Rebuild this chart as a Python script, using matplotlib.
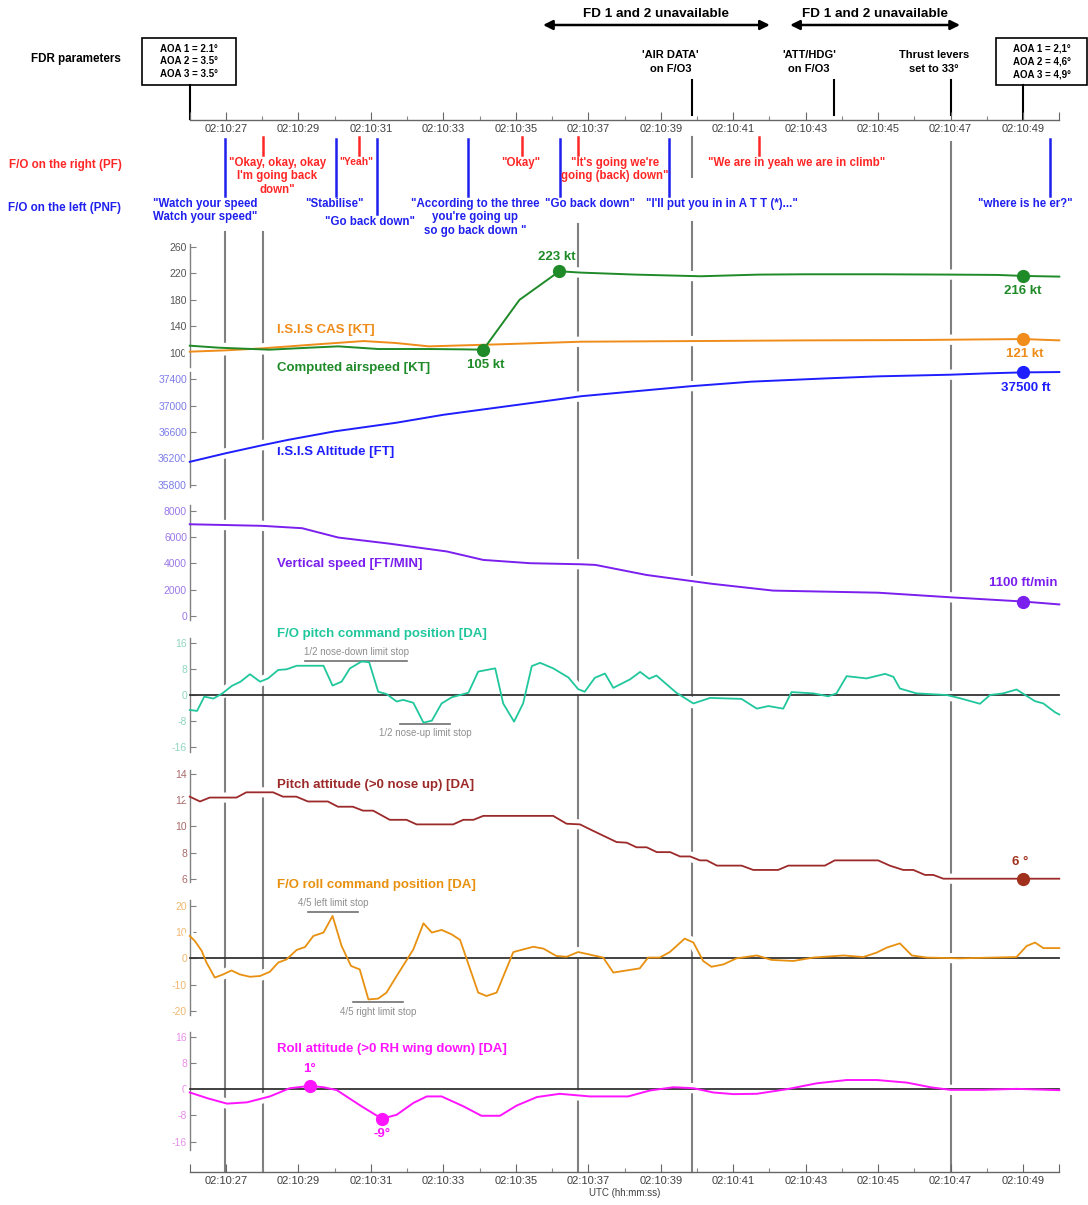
import matplotlib
matplotlib.use("Agg")
import matplotlib.pyplot as plt
from matplotlib.ticker import FixedLocator, FuncFormatter
from matplotlib.patches import Rectangle

plt.rcParams['font.family'] = ['Liberation Sans', 'DejaVu Sans']
plt.rcParams['axes.unicode_minus'] = False

# ---------------- time axis (seconds after 02:10:00 UTC) ----------------
T0, T1 = 26.0, 50.0

# ---------------- FDR series ----------------
cas_t = [26.0, 26.8, 28.2, 29.3, 30.1, 31.2, 32.6, 33.5, 34.1, 35.1, 36.2, 36.8,
         38.3, 40.1, 41.7, 43.0, 45.0, 47.0, 48.3, 49.0, 50.0]
cas_v = [111, 108, 105, 108, 110, 106, 106, 105.5, 105, 180, 223, 221,
         218, 215.5, 218, 218.5, 218.5, 218, 217.5, 216, 215]
cas_mark_t = [34.1, 36.2, 49.0]
cas_mark_v = [105, 223, 216]

isis_cas_t = [26.0, 27.0, 28.0, 29.5, 30.8, 31.7, 32.6, 34.5, 36.8, 40.0, 43.0, 46.0, 47.0, 49.0, 50.0]
isis_cas_v = [102, 104, 107, 113, 118, 115, 110, 113, 117, 118, 119, 119.5, 120, 121, 119]
isis_cas_mark = (49.0, 121)

alt_t = [26.0, 27.0, 28.0, 28.7, 30.0, 31.7, 33.0, 34.5, 36.0, 36.8, 38.0, 39.8,
         41.5, 43.6, 45.0, 47.0, 48.0, 49.0, 50.0]
alt_v = [36150, 36280, 36400, 36480, 36610, 36740, 36860, 36970, 37080, 37140, 37200, 37290,
         37360, 37410, 37440, 37465, 37485, 37500, 37505]
alt_mark = (49.0, 37500)

vs_t = [26.0, 28.0, 29.1, 30.1, 31.5, 33.1, 34.1, 35.4, 36.8, 37.2, 38.6, 40.4,
        42.1, 45.0, 47.0, 49.0, 50.0]
vs_v = [6970, 6850, 6670, 5960, 5500, 4900, 4260, 4010, 3930, 3880, 3120, 2450,
        1930, 1770, 1420, 1100, 880]
vs_mark = (49.0, 1100)

pcmd_t = [26.0, 26.2, 26.4, 26.65, 26.9, 27.16, 27.4, 27.66, 27.94, 28.16, 28.44, 28.67,
          28.95, 29.69, 29.94, 30.19, 30.42, 30.74, 30.95, 31.2, 31.43, 31.71, 31.89, 32.17,
          32.45, 32.68, 32.95, 33.23, 33.69, 33.96, 34.19, 34.43, 34.65, 34.95, 35.2, 35.44,
          35.67, 36.03, 36.45, 36.72, 36.9, 37.18, 37.46, 37.69, 38.15, 38.43, 38.68, 38.88,
          39.43, 39.9, 40.36, 41.23, 41.65, 41.97, 42.38, 42.61, 43.21, 43.62, 43.85, 44.13,
          44.68, 45.19, 45.42, 45.6, 46.06, 46.89, 47.26, 47.81, 48.09, 48.45, 48.82, 49.1,
          49.33, 49.56, 49.88, 50.0]
pcmd_v = [-4.6, -4.9, -0.5, -1.1, 0.5, 2.8, 4.1, 6.4, 4.1, 5.1, 7.7, 7.9,
          9.0, 9.0, 2.9, 4.1, 8.2, 10.3, 10.1, 1.0, 0.3, -2.0, -1.5, -2.4,
          -8.5, -7.9, -2.6, -0.7, 0.7, 7.2, 7.7, 8.2, -2.6, -8.2, -2.6, 8.9,
          9.9, 8.2, 5.4, 1.8, 1.0, 5.3, 6.6, 2.2, 4.8, 7.1, 5.0, 6.0,
          0.7, -2.6, -0.9, -1.2, -4.2, -3.4, -4.2, 0.9, 0.5, -0.4, 0.5, 5.8,
          5.1, 6.5, 5.6, 2.0, 0.5, 0.0, -1.0, -2.7, 0.0, 0.5, 1.7, -0.3,
          -1.9, -2.6, -5.3, -6.0]

patt_t = [26.0, 26.28, 26.55, 27.29, 27.56, 28.3, 28.57, 28.94, 29.26, 29.81, 30.09, 30.5,
          30.78, 31.06, 31.52, 31.98, 32.26, 33.27, 33.55, 33.83, 34.1, 36.03, 36.4, 36.77,
          37.1, 37.78, 38.06, 38.33, 38.61, 38.89, 39.26, 39.53, 39.81, 40.08, 40.27, 40.55,
          41.23, 41.55, 42.24, 42.52, 43.53, 43.8, 45.0, 45.32, 45.69, 45.97, 46.29, 46.52,
          46.8, 50.0]
patt_v = [12.27, 11.9, 12.2, 12.2, 12.6, 12.6, 12.27, 12.27, 11.9, 11.9, 11.5, 11.5,
          11.2, 11.2, 10.5, 10.5, 10.15, 10.15, 10.5, 10.5, 10.8, 10.8, 10.2, 10.15,
          9.7, 8.8, 8.75, 8.4, 8.4, 8.03, 8.03, 7.7, 7.7, 7.4, 7.4, 7.0,
          7.0, 6.67, 6.67, 7.0, 7.0, 7.4, 7.4, 7.0, 6.67, 6.67, 6.29, 6.29,
          6.0, 6.0]
patt_mark = (49.0, 6)

rcmd_t = [26.0, 26.14, 26.33, 26.46, 26.69, 26.92, 27.15, 27.38, 27.66, 27.94, 28.21, 28.44,
          28.67, 28.95, 29.18, 29.41, 29.69, 29.94, 30.19, 30.45, 30.69, 30.93, 31.2, 31.43,
          31.71, 32.17, 32.45, 32.68, 32.95, 33.23, 33.46, 33.96, 34.19, 34.47, 34.93, 35.48,
          35.76, 36.12, 36.4, 36.72, 37.41, 37.69, 38.42, 38.65, 38.97, 39.25, 39.66, 39.9,
          40.17, 40.4, 40.73, 41.09, 41.65, 42.06, 42.66, 43.21, 44.04, 44.59, 44.96, 45.24,
          45.6, 45.93, 46.34, 47.26, 48.82, 49.1, 49.33, 49.56, 50.0]
rcmd_v = [8.5, 6.6, 2.8, -1.6, -7.3, -6.1, -4.6, -6.1, -7.0, -6.7, -5.1, -1.6,
          -0.4, 3.2, 4.3, 8.5, 9.8, 16.1, 4.7, -2.9, -4.2, -15.6, -15.3, -13.0,
          -6.7, 3.4, 13.3, 9.8, 10.8, 9.1, 7.0, -13.0, -14.3, -13.0, 2.4, 4.4,
          3.7, 0.9, 0.6, 2.4, 0.3, -5.4, -3.8, 0.3, 0.3, 2.4, 7.5, 6.0,
          -1.0, -3.2, -2.3, 0.0, 1.1, -0.6, -1.0, 0.3, 1.1, 0.5, 2.2, 4.1,
          5.7, 1.1, 0.3, 0.0, 0.5, 4.7, 6.0, 3.9, 3.9]

ratt_t = [26.0, 26.5, 27.03, 27.58, 28.21, 28.76, 29.31, 29.69, 30.06, 30.71, 31.3, 31.71,
          32.17, 32.54, 32.95, 33.55, 34.05, 34.56, 35.02, 35.58, 36.21, 37.04, 37.5, 38.1,
          38.7, 39.35, 39.9, 40.45, 41.0, 41.65, 42.48, 43.31, 44.13, 44.96, 45.8, 46.44,
          46.99, 47.91, 48.83, 50.0]
ratt_v = [-1.0, -2.8, -4.4, -4.0, -2.2, 0.3, 1.0, 0.6, -0.3, -5.0, -9.0, -7.8,
          -4.2, -2.2, -2.2, -5.2, -8.1, -8.1, -5.0, -2.4, -1.4, -2.2, -2.2, -2.2,
          -0.4, 0.6, 0.3, -1.0, -1.5, -1.4, 0.0, 1.8, 2.8, 2.8, 2.0, 0.6,
          -0.2, -0.2, 0.1, -0.3]
ratt_marks = [(29.31, 1), (31.3, -9)]

# ---------------- cockpit events ----------------
pf_times = [28.02, 30.66, 35.16, 36.71, 41.72]
pf_text_t = [28.41, 30.59, 35.14, 37.74, 42.76]
pf_quotes = ['"Okay, okay, okay\nI\'m going back\ndown"', '"Yeah"', '"Okay"',
             '"It\'s going we\'re\ngoing (back) down"', '"We are in yeah we are in climb"']

pnf_times = [26.96, 30.04, 31.17, 33.68, 36.22, 39.22, 49.74]
pnf_text_t = [26.42, 30.0, 30.97, 33.87, 37.05, 40.69, 49.05]
pnf_quotes = ['"Watch your speed\nWatch your speed"', '"Stabilise"', '"Go back down"',
              '"According to the three\nyou\'re going up\nso go back down "', '"Go back down"',
              '"I\'ll put you in in A T T (*)..."', '"where is he er?"']

sys_times = [39.85, 43.78, 47.0]
sys_text_t = [39.27, 43.09, 46.54]
sys_labels = ["'AIR DATA'\non F/O3", "'ATT/HDG'\non F/O3", "Thrust levers\nset to 33°"]

fd_spans = [(35.75, 42.01), (42.57, 47.26)]
fd_label = "FD 1 and 2 unavailable"

aoa_times = [26.0, 49.0]
aoa_text = ["AOA 1 = 2.1°\nAOA 2 = 3.5°\nAOA 3 = 3.5°", "AOA 1 = 2,1°\nAOA 2 = 4,6°\nAOA 3 = 4,9°"]

# ---------------- colours ----------------
C_GREEN = '#1f8a28'
C_ORANGE = '#ef8c1a'
C_BLUE = '#1e1eff'
C_PURPLE = '#7a1fee'
C_TEAL = '#21c79c'
C_BROWN = '#9c2a2a'
C_ROLLC = '#e8900f'
C_MAGENTA = '#ff14ff'
C_RED = '#ff2626'
C_TXTBLUE = '#1f1fee'
C_GRAY = '#808080'

# ---------------- figure ----------------
W, H = 1088, 1205
X0, X1 = 189.8, 1059.3
fig = plt.figure(figsize=(W / 100, H / 100), dpi=100)
fig.patch.set_facecolor('white')


def px_axes(top, bottom, z):
    return fig.add_axes([X0 / W, 1 - bottom / H, (X1 - X0) / W, (bottom - top) / H], zorder=z)


# overlay in (time, pixel-row) coordinates for events and captions
ov = fig.add_axes([X0 / W, 0, (X1 - X0) / W, 1], zorder=0)
ov.set_xlim(T0, T1)
ov.set_ylim(H, 0)
ov.axis('off')

# grey event lines running through the data panels
gray_segments = [(pnf_times[0], [(232, 1172)]),
                 (pf_times[0], [(232, 1172)]),
                 (pf_times[3], [(224, 1172)]),
                 (sys_times[0], [(137, 177), (222, 1172)]),
                 (sys_times[2], [(142, 1172)])]
for t, segs in gray_segments:
    for y0, y1 in segs:
        ov.plot([t, t], [y0, y1], color=C_GRAY, lw=1.5, clip_on=False, zorder=1)


def panel(top, bottom, ticks, y_first, y_last, tick_color, spine_px):
    ax = px_axes(top, bottom, 2)
    scale = (ticks[-1] - ticks[0]) / (y_last - y_first)
    f = lambda y: ticks[0] + (y - y_first) * scale
    ax.set_xlim(T0, T1)
    ax.set_ylim(f(bottom), f(top))
    ax.patch.set_visible(False)
    for s in ('top', 'right', 'bottom'):
        ax.spines[s].set_visible(False)
    ax.spines['left'].set_color(C_GRAY)
    ax.spines['left'].set_linewidth(1.0)
    ax.spines['left'].set_bounds(f(spine_px[1]), f(spine_px[0]))
    ax.set_yticks(ticks)
    ax.set_xticks([])
    ax.tick_params(axis='y', direction='in', length=4, width=0.8, color=C_GRAY,
                   labelsize=7.5, labelcolor=tick_color, pad=2)
    return ax


def series(ax, t, v, color, lw=1.4):
    # white band underneath opens the grey event lines where the trace passes
    ax.plot(t, v, color='white', lw=lw + 6, solid_joinstyle='round', clip_on=False, zorder=2.2)
    ax.plot(t, v, color=color, lw=lw, solid_joinstyle='round', clip_on=False, zorder=3)


def mark(ax, t, v, color, label, dy, dx=0, size=8.5):
    ax.plot([t], [v], 'o', color=color, ms=size, zorder=4, clip_on=False)
    ax.annotate(label, (t, v), xytext=(dx, dy), textcoords='offset points',
                ha='center', va='center', color=color, fontsize=9.5, fontweight='bold')


def zero_line(ax):
    ax.plot([T0, T1], [0, 0], color='#333333', lw=1.3, clip_on=False, zorder=2.8)


def limit_stop(ax, t0, t1, v, text, dy):
    ax.plot([t0, t1], [v, v], color='#707070', lw=1.2, zorder=2.9)
    ax.annotate(text, ((t0 + t1) / 2, v), xytext=(0, dy), textcoords='offset points',
                ha='center', va='center', fontsize=7, color='#8f8f8f')


# speeds
ax_spd = panel(240, 372, [100, 140, 180, 220, 260], 353, 246.7, '#555555', (244, 367))
series(ax_spd, isis_cas_t, isis_cas_v, C_ORANGE)
series(ax_spd, cas_t, cas_v, C_GREEN)
mark(ax_spd, cas_mark_t[0], cas_mark_v[0], C_GREEN, '105 kt', -11, 2)
mark(ax_spd, cas_mark_t[1], cas_mark_v[1], C_GREEN, '223 kt', 10, -2)
mark(ax_spd, cas_mark_t[2], cas_mark_v[2], C_GREEN, '216 kt', -11, 0)
mark(ax_spd, isis_cas_mark[0], isis_cas_mark[1], C_ORANGE, '121 kt', -11, 1)

# altitude
ax_alt = panel(372, 492, [35800, 36200, 36600, 37000, 37400], 485, 379, '#7c7ce8', (372, 487))
series(ax_alt, alt_t, alt_v, C_BLUE)
mark(ax_alt, alt_mark[0], alt_mark[1], C_BLUE, '37500 ft', -11, 2)

# vertical speed
ax_vs = panel(500, 622, [0, 2000, 4000, 6000, 8000], 616, 510.7, '#9a78e8', (505, 620))
series(ax_vs, vs_t, vs_v, C_PURPLE)
mark(ax_vs, vs_mark[0], vs_mark[1], C_PURPLE, '1100 ft/min', 13, 0)

# pitch command
ax_pc = panel(632, 756, [-16, -8, 0, 8, 16], 747, 643, '#8fd6c0', (638, 752))
zero_line(ax_pc)
series(ax_pc, pcmd_t, pcmd_v, C_TEAL, lw=1.3)
limit_stop(ax_pc, 29.18, 32.0, 10.6, '1/2 nose-down limit stop', 6.5)
limit_stop(ax_pc, 31.8, 33.18, -8.9, '1/2 nose-up limit stop', -6.5)

# pitch attitude
ax_pa = panel(766, 890, [6, 8, 10, 12, 14], 878.7, 774, '#a86a6a', (770, 882))
series(ax_pa, patt_t, patt_v, C_BROWN, lw=1.3)
mark(ax_pa, patt_mark[0], patt_mark[1], '#a0301c', '6 °', 12, -2)

# roll command
ax_rc = panel(898, 1018, [-20, -10, 0, 10, 20], 1011, 905.7, '#f0b870', (900, 1015))
zero_line(ax_rc)
series(ax_rc, rcmd_t, rcmd_v, C_ROLLC, lw=1.3)
limit_stop(ax_rc, 29.26, 30.64, 17.7, '4/5 left limit stop', 6.5)
limit_stop(ax_rc, 30.5, 31.88, -16.5, '4/5 right limit stop', -7)

# roll attitude
ax_ra = panel(1030, 1152, [-16, -8, 0, 8, 16], 1141.7, 1036.7, '#e890e8', (1032, 1150))
zero_line(ax_ra)
series(ax_ra, ratt_t, ratt_v, C_MAGENTA, lw=1.4)
mark(ax_ra, ratt_marks[0][0], ratt_marks[0][1], C_MAGENTA, '1°', 12, 0)
mark(ax_ra, ratt_marks[1][0], ratt_marks[1][1], C_MAGENTA, '-9°', -11, 0)

# series captions
captions = [("I.S.I.S CAS [KT]", 330, C_ORANGE),
            ("Computed airspeed [KT]", 368, C_GREEN),
            ("I.S.I.S Altitude [FT]", 452, C_BLUE),
            ("Vertical speed [FT/MIN]", 564, C_PURPLE),
            ("F/O pitch command position [DA]", 634, C_TEAL),
            ("Pitch attitude (>0 nose up) [DA]", 785, C_BROWN),
            ("F/O roll command position [DA]", 885, C_ROLLC),
            ("Roll attitude (>0 RH wing down) [DA]", 1049, C_MAGENTA)]
for txt, y, c in captions:
    ov.text(28.41, y, txt, color=c, fontsize=9.5, fontweight='bold', ha='left', va='center')


# time axes (top and bottom)
def time_axis(top, bottom, xlabel=None):
    ax = px_axes(top, bottom, 1)
    ax.set_xlim(T0, T1)
    ax.patch.set_visible(False)
    for s in ('top', 'right', 'left'):
        ax.spines[s].set_visible(False)
    ax.spines['bottom'].set_color('#666666')
    ax.spines['bottom'].set_linewidth(1.0)
    ax.set_yticks([])
    ax.xaxis.set_major_locator(FixedLocator([26] + list(range(27, 50, 2)) + [50]))
    ax.xaxis.set_minor_locator(FixedLocator(list(range(28, 49, 2))))
    ax.xaxis.set_major_formatter(FuncFormatter(
        lambda t, p: f"02:10:{int(round(t)):02d}" if int(round(t)) % 2 == 1 else ""))
    ax.tick_params(axis='x', which='major', direction='in', length=6, width=0.8,
                   color='#666666', labelsize=8, labelcolor='#404040', pad=3)
    ax.tick_params(axis='x', which='minor', direction='in', length=3, width=0.8, color='#888888')
    if xlabel:
        ax.set_xlabel(xlabel, fontsize=7, color='#404040', labelpad=1)
    return ax


time_axis(100, 120)
time_axis(1150, 1172, 'UTC (hh:mm:ss)')

# FD unavailability arrows
for a, b in fd_spans:
    ov.annotate('', xy=(b, 25), xytext=(a, 25),
                arrowprops=dict(arrowstyle='<|-|>', color='black', lw=1.8, mutation_scale=14,
                                shrinkA=0, shrinkB=0), annotation_clip=False)
    ov.text((a + b) / 2, 14, fd_label, ha='center', va='center', fontsize=9.7, fontweight='bold')

# AOA boxes
box_spans = [(24.68, 27.28), (48.26, 50.77)]
for (a, b), t, txt in zip(box_spans, aoa_times, aoa_text):
    ov.add_patch(Rectangle((a, 38), b - a, 47, fill=False, edgecolor='black', lw=1.2, clip_on=False))
    ov.text((a + b) / 2, 61.5, txt, ha='center', va='center', fontsize=7, fontweight='bold',
            linespacing=1.35)
    ov.plot([t, t], [85, 119], color='black', lw=1.5, clip_on=False)

# system events
for t, tt, lbl in zip(sys_times, sys_text_t, sys_labels):
    ov.text(tt, 62, lbl, ha='center', va='center', fontsize=8, fontweight='bold', linespacing=1.55)
    ov.plot([t, t], [80, 115], color='black', lw=1.5, clip_on=False)

# pilot flying remarks
for t, tt, q in zip(pf_times, pf_text_t, pf_quotes):
    ov.plot([t, t], [137, 155], color=C_RED, lw=1.8, clip_on=False)
    ov.text(tt, 157, q, ha='center', va='top', color=C_RED, fontweight='bold',
            fontsize=7.5 if q == '"Yeah"' else 8.3, linespacing=1.15)

# pilot not flying remarks
for i, (t, tt, q) in enumerate(zip(pnf_times, pnf_text_t, pnf_quotes)):
    low = i == 2
    ov.plot([t, t], [139, 214 if low else 196], color=C_TXTBLUE, lw=1.8, clip_on=False)
    ov.text(tt, 216 if low else 198, q, ha='center', va='top', color=C_TXTBLUE,
            fontweight='bold', fontsize=8.3, linespacing=1.15)

# left-hand row titles
fig.text(76 / W, 1 - 59 / H, 'FDR parameters', ha='center', va='center', fontsize=8.4, fontweight='bold')
fig.text(65 / W, 1 - 165 / H, 'F/O on the right (PF)', ha='center', va='center', fontsize=8.4,
         fontweight='bold', color=C_RED)
fig.text(65 / W, 1 - 208 / H, 'F/O on the left (PNF)', ha='center', va='center', fontsize=8.4,
         fontweight='bold', color=C_TXTBLUE)

fig.savefig('out.png', dpi=100, facecolor='white')
